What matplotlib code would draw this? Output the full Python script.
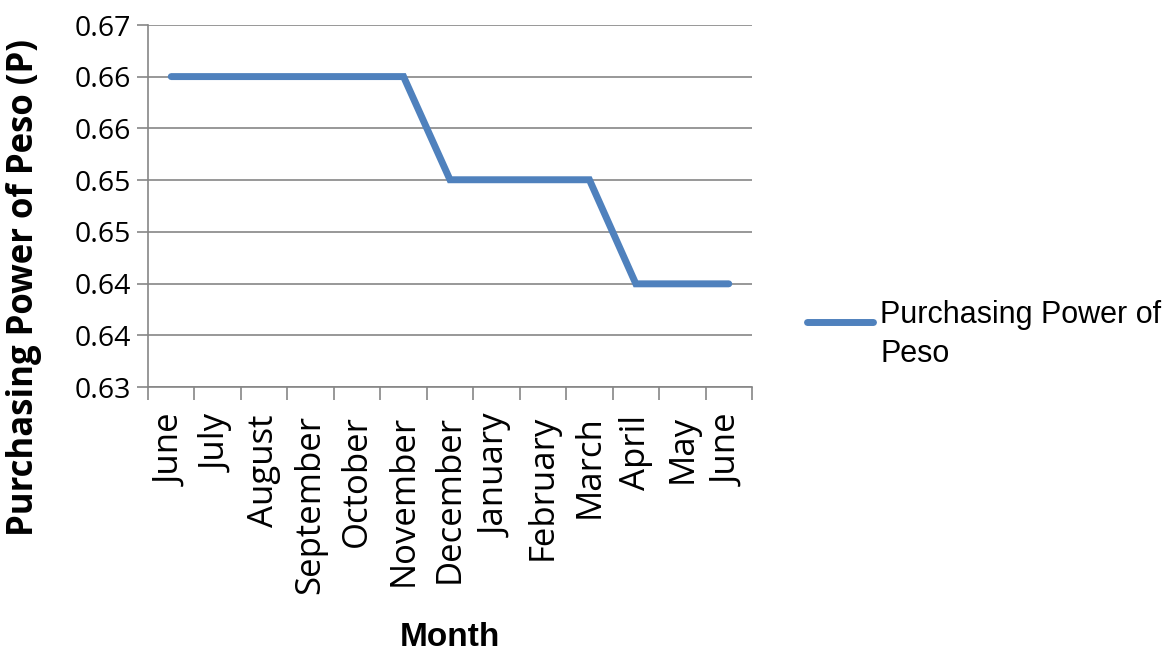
import matplotlib
matplotlib.use("Agg")
import matplotlib.pyplot as plt
from matplotlib.lines import Line2D
import numpy as np

months = ["June", "July", "August", "September", "October", "November",
          "December", "January", "February", "March", "April", "May", "June"]
power = [0.6643, 0.6643, 0.6643, 0.6643, 0.6643, 0.6643,
         0.6529, 0.6529, 0.6529, 0.6529, 0.6414, 0.6414, 0.6414]
y_min, y_max, n_yticks = 0.63, 0.67, 8

LINE_COLOR = "#4F81BD"
AXIS_GRAY = "#868686"
TICK_FONT = ["Open Sans", "DejaVu Sans"]
NARROW_FONT = ["Liberation Sans Narrow", "Liberation Sans", "DejaVu Sans"]

W, H = 1176, 657
fig = plt.figure(figsize=(W / 100, H / 100), dpi=100)
ax = fig.add_axes([148 / W, 1 - 387 / H, (752 - 148) / W, (387 - 25) / H])

x = np.arange(len(months))
ax.plot(x, power, color=LINE_COLOR, linewidth=5, solid_capstyle="round",
        solid_joinstyle="miter")

ax.set_xlim(-0.5, len(months) - 0.5)
ax.set_ylim(y_min, y_max)

yt = np.linspace(y_min, y_max, n_yticks)
ax.set_yticks(yt)
ax.set_yticklabels([f"{v:.2f}" for v in yt], fontsize=20.5, family=TICK_FONT)
ax.yaxis.grid(True, color=AXIS_GRAY, linewidth=1.2)
ax.set_axisbelow(True)

ax.set_xticks(x)
ax.set_xticklabels(months, rotation=90, fontsize=25, family=TICK_FONT)
ax.set_xticks(np.arange(-0.5, len(months)), minor=True)
ax.tick_params(axis="x", which="major", length=0, pad=20)
ax.tick_params(axis="x", which="minor", length=9, color=AXIS_GRAY, width=1.2)
ax.tick_params(axis="y", length=8, color=AXIS_GRAY, width=1.2, pad=4)

for side in ["top", "right"]:
    ax.spines[side].set_visible(False)
for side in ["left", "bottom"]:
    ax.spines[side].set_color(AXIS_GRAY)
    ax.spines[side].set_linewidth(1.2)

ax.set_ylabel("Purchasing Power of Peso (P)", fontsize=25, fontweight="bold",
              family=TICK_FONT)
ax.yaxis.set_label_coords((42 - 148) / 604, (387 - 288) / 362)
fig.text(450 / W, 1 - 638 / H, "Month", fontsize=24, fontweight="bold",
         family=NARROW_FONT, ha="center", va="center")

# legend
fig.add_artist(Line2D([807 / W, 873 / W], [1 - 322 / H, 1 - 322 / H],
                      color=LINE_COLOR, linewidth=5, solid_capstyle="round"))
fig.text(880 / W, 1 - 300 / H, "Purchasing Power of\nPeso", fontsize=22,
         family=NARROW_FONT, ha="left", va="top", linespacing=1.4)

fig.savefig("out.png", dpi=100)
